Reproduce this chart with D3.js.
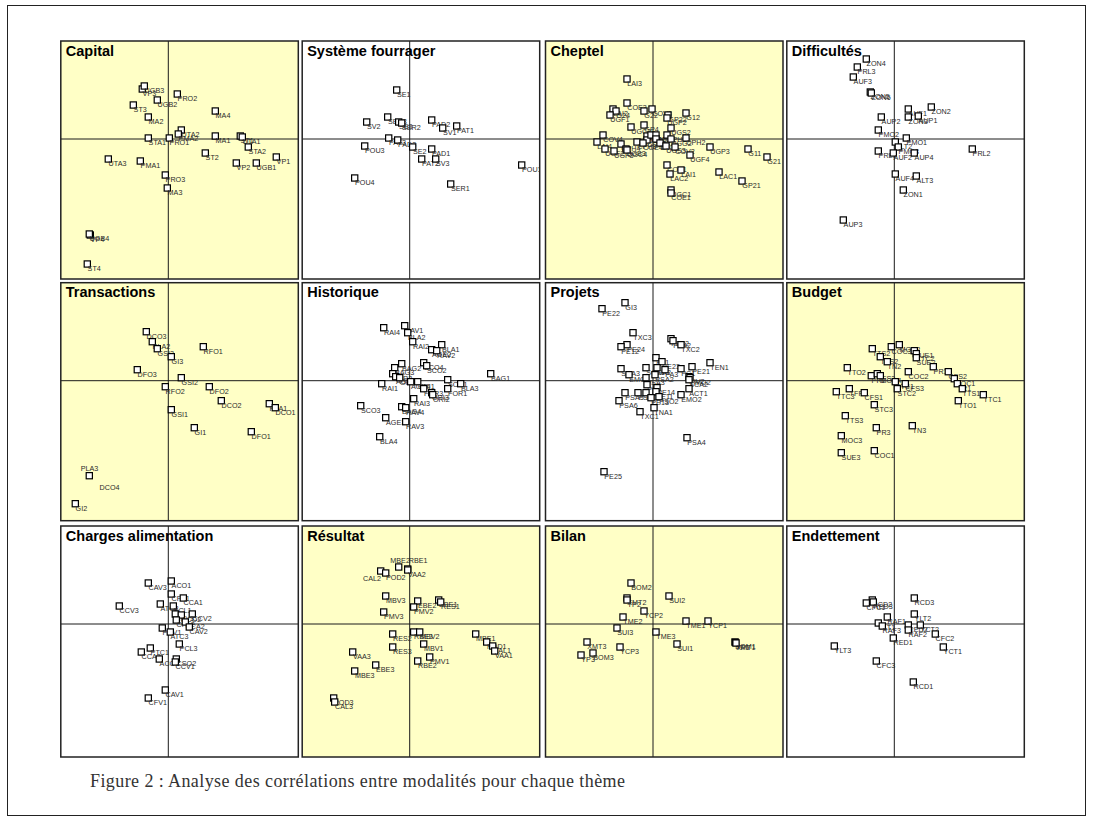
<!DOCTYPE html>
<html>
<head>
<meta charset="utf-8">
<script src="https://cdn.jsdelivr.net/npm/d3@7"></script>
<style>
  body { margin: 0; background: #fff; }
  svg { display: block; }
</style>
</head>
<body>
<svg id="fig" width="1093" height="823"></svg>
<script>
// Themes, in reading order (4 per row)
const themes = ["Capital", "Système fourrager", "Cheptel", "Difficultés",
                "Transactions", "Historique", "Projets", "Budget",
                "Charges alimentation", "Résultat", "Bilan", "Endettement"];
const shadedThemes = ["Capital", "Cheptel", "Transactions", "Budget", "Résultat", "Bilan"];

// Modalities: [code, axis 1, axis 2]
const capital = [["VP3",-0.26,0.50],["UGB3",-0.24,0.53],["PRO2",0.09,0.45],["UGB2",-0.11,0.39],["ST3",-0.35,0.34],
  ["MA2",-0.20,0.22],["MA4",0.47,0.28],["UTA2",0.13,0.09],["PMA2",0.10,0.05],["STA1",-0.20,0.01],["PRO1",0.01,0.01],
  ["MA1",0.47,0.03],["ST1",0.72,0.03],["UTA1",0.74,0.02],["STA2",0.80,-0.08],["ST2",0.37,-0.14],["VP1",1.08,-0.18],
  ["VP2",0.68,-0.24],["UGB1",0.88,-0.24],["UTA3",-0.60,-0.20],["PMA1",-0.28,-0.22],["PRO3",-0.03,-0.36],["MA3",-0.01,-0.49],
  ["VP4",-0.78,-0.96],["UGB4",-0.79,-0.95],["ST4",-0.81,-1.25]];

const systemeFourrager = [["SE1",-0.13,0.49],["SER3",-0.22,0.22],["SE3",-0.11,0.17],["SER2",-0.08,0.16],["SV2",-0.43,0.17],
  ["PAD2",0.22,0.19],["SV1",0.33,0.11],["PAT1",0.47,0.13],["PAT3",-0.21,0.01],["PAD3",-0.12,-0.01],["SE2",0.03,-0.08],
  ["PAD1",0.22,-0.10],["POU3",-0.45,-0.07],["PAT2",0.12,-0.20],["SV3",0.26,-0.20],["POU1",1.12,-0.26],["POU4",-0.55,-0.39],
  ["SER1",0.41,-0.45]];

const cheptel = [["LAI3",-0.26,0.60],["COE3",-0.26,0.36],["LAI2",-0.40,0.30],["G24",-0.37,0.28],["UGF1",-0.43,0.24],
  ["G22",-0.09,0.28],["COV3",-0.01,0.30],["GP22",0.15,0.24],["UGP2",0.14,0.21],["G12",0.33,0.26],["UGC3",-0.22,0.12],
  ["GP4",-0.09,0.14],["UGS2",0.18,0.11],["COV4",-0.50,0.04],["LAI4",-0.56,-0.03],["UGC2",-0.06,0.03],["COE2",-0.06,-0.01],
  ["GP1",-0.02,0.04],["UGS1",0.03,0.04],["G13",0.03,0.00],["CPH1",0.14,0.04],["UGG2",0.18,0.00],["CPH2",0.33,0.01],
  ["CPH3",-0.16,-0.03],["COE4",-0.10,-0.04],["LAC4",0.07,-0.04],["CPH4",-0.32,-0.05],["UGB3",-0.27,-0.10],["UGC4",-0.26,-0.11],
  ["UGF2",-0.48,-0.10],["UGF3",-0.39,-0.12],["UGS3",0.13,-0.07],["COV2",0.22,-0.08],["UGP3",0.57,-0.08],["G11",0.95,-0.10],
  ["G21",1.14,-0.18],["UGF4",0.37,-0.16],["COV1",0.14,-0.26],["LAI1",0.28,-0.31],["LAC2",0.17,-0.35],["LAC1",0.66,-0.33],
  ["GP21",0.89,-0.42],["UGC1",0.18,-0.51],["COE1",0.18,-0.54]];

const difficultes = [["ZON4",-0.28,0.80],["PRL3",-0.37,0.72],["AUF3",-0.41,0.62],["ZON5",-0.24,0.47],["ZON6",-0.23,0.46],
  ["AUF1",0.14,0.30],["ZON2",0.37,0.32],["ZON3",0.14,0.22],["AUP1",0.24,0.23],["AUP2",-0.13,0.22],["PMO2",-0.16,0.09],
  ["PMO1",0.12,0.01],["ALT2",0.01,-0.03],["PMO3",0.04,-0.08],["PRL1",-0.16,-0.12],["AUF2",-0.01,-0.14],["AUP4",0.20,-0.14],
  ["PRL2",0.78,-0.10],["AUF4",0.01,-0.35],["ALT3",0.22,-0.37],["ZON1",0.09,-0.51],["AUP3",-0.51,-0.81]];

const transactions = [["DCO3",-0.22,0.49],["PLA2",-0.16,0.39],["GSI3",-0.11,0.32],["GI3",0.03,0.24],["RFO1",0.35,0.34],
  ["DFO3",-0.31,0.11],["GSI2",0.13,0.03],["RFO2",-0.03,-0.06],["DFO2",0.41,-0.06],["DCO2",0.53,-0.20],["PLA1",1.01,-0.23],
  ["DCO1",1.07,-0.27],["GSI1",0.03,-0.29],["GI1",0.26,-0.47],["DFO1",0.83,-0.51],["PLA3",-0.79,-0.95],["DCO4",-0.69,-1.02],
  ["GI2",-0.93,-1.23]];

const historique = [["RAI4",-0.26,0.53],["RAV1",-0.05,0.55],["BLA2",-0.02,0.48],["RAI2",0.03,0.39],["BLA1",0.32,0.36],
  ["AGE2",0.22,0.31],["RAV2",0.27,0.30],["SCO4",0.14,0.18],["SCO2",0.17,0.15],["BAG2",-0.08,0.17],["BAG3",-0.15,0.13],
  ["FOR2",-0.17,0.07],["AGE1",-0.14,0.04],["ORI4",-0.10,0.03],["RAI1",-0.28,-0.03],["AGE4",0.01,-0.01],["ORI1",0.08,-0.01],
  ["SCO1",0.38,0.01],["BLA3",0.51,-0.03],["BAG1",0.81,0.07],["FOR3",0.14,-0.08],["ORI3",0.22,-0.12],["ORI2",0.23,-0.14],
  ["FOR1",0.38,-0.08],["RAI3",0.04,-0.18],["SCO3",-0.49,-0.25],["BAG4",-0.08,-0.26],["RAV4",-0.04,-0.27],["AGE3",-0.24,-0.37],
  ["RAV3",-0.04,-0.41],["BLA4",-0.30,-0.56]];

const projets = [["GI3",-0.28,0.78],["PE22",-0.51,0.72],["TXC3",-0.20,0.48],["PE24",-0.26,0.36],["PE12",-0.32,0.34],
  ["PE32",0.18,0.42],["PE42",0.20,0.40],["TXC2",0.28,0.36],["TEN1",0.57,0.18],["PE21",0.39,0.14],["PA1",0.03,0.23],
  ["PE23",0.09,0.19],["SCA1",-0.07,0.13],["SA2",0.04,0.13],["PA3",0.12,0.11],["PC1",0.28,0.12],["PSA2",0.02,0.06],
  ["SCA3",-0.32,0.12],["EMO1",-0.24,0.06],["PSA3",-0.07,0.03],["PT2",-0.06,-0.04],["PE14",0.04,-0.07],["TIV2",0.36,0.04],
  ["PMO2",0.37,0.03],["SCA2",0.36,0.01],["ACT1",0.36,-0.08],["EMO2",0.28,-0.14],["PE11",0.03,-0.11],["PSA5",-0.28,-0.12],
  ["PSA6",-0.34,-0.20],["PSA1",-0.15,-0.12],["PT1",-0.07,-0.12],["PE13",-0.02,-0.17],["PSO2",0.06,-0.16],["TNA1",0.01,-0.27],
  ["TXC1",-0.13,-0.31],["PSA4",0.34,-0.57],["PE25",-0.49,-0.91]];

const budget = [["TTS2",-0.22,0.32],["COC3",-0.03,0.34],["MOC2",0.05,0.36],["SUE1",0.20,0.30],["TTC2",0.22,0.27],
  ["SUE2",0.22,0.23],["TFS2",-0.14,0.24],["TN2",-0.07,0.19],["PR1",0.39,0.14],["TTO2",-0.47,0.13],["COC2",0.14,0.09],
  ["CFS2",0.54,0.09],["PR2",-0.23,0.05],["TFS3",-0.17,0.07],["MOC4",-0.14,0.05],["STC1",0.01,-0.01],["MOC1",0.60,0.02],
  ["TR1",0.63,-0.03],["TTS1",0.68,-0.08],["TTC1",0.89,-0.14],["TTO1",0.64,-0.20],["CFS3",0.11,-0.03],["STC2",0.03,-0.08],
  ["TTC3",-0.58,-0.11],["TFF1",-0.45,-0.08],["CFS1",-0.30,-0.12],["STC3",-0.20,-0.24],["TTS3",-0.49,-0.35],["PR3",-0.18,-0.47],
  ["TN3",0.18,-0.45],["MOC3",-0.53,-0.55],["SUE3",-0.53,-0.72],["COC1",-0.20,-0.70]];

const chargesAlimentation = [["CAV3",-0.20,0.41],["ACO1",0.03,0.43],["CPA1",0.03,0.30],["CCA1",0.15,0.26],["CCV3",-0.49,0.18],
  ["ATC2",-0.08,0.20],["PCL1",0.05,0.18],["CCV2",0.24,0.10],["CFV3",0.07,0.10],["ACO2",0.13,0.09],["CPA2",0.08,0.04],
  ["CCA2",0.17,0.02],["CAV2",0.21,-0.03],["PCV1",-0.06,-0.04],["ATC3",0.02,-0.08],["PCL3",0.11,-0.20],["PTC1",-0.18,-0.24],
  ["CCA3",-0.27,-0.28],["ACO3",-0.09,-0.35],["CSO2",0.08,-0.35],["CCV1",0.07,-0.38],["CAV1",-0.03,-0.66],["CFV1",-0.20,-0.74]];

const resultat = [["MBE2",-0.11,0.57],["RBE1",-0.02,0.55],["VAA2",-0.02,0.54],["CAL2",-0.29,0.53],["POD2",-0.24,0.51],
  ["MBV3",-0.24,0.28],["PMV3",-0.26,0.12],["EBE2",0.08,0.23],["EBE1",0.29,0.24],["PMV2",0.04,0.17],["RES1",0.31,0.22],
  ["RES2",-0.17,-0.10],["RBE3",0.04,-0.08],["MBV2",0.10,-0.08],["MBV1",0.14,-0.20],["RES3",-0.17,-0.23],["PMV1",0.20,-0.33],
  ["RBE2",0.08,-0.37],["MBE1",0.66,-0.10],["POD1",0.77,-0.18],["CAL1",0.83,-0.22],["VAA1",0.85,-0.27],["VAA3",-0.57,-0.28],
  ["EBE3",-0.34,-0.41],["MBE3",-0.55,-0.47],["POD3",-0.76,-0.74],["CAL3",-0.75,-0.78]];

const bilan = [["BOM2",-0.22,0.41],["SUI2",0.16,0.28],["XMT2",-0.26,0.26],["YP2",-0.26,0.24],["YCP2",-0.09,0.13],
  ["TME2",-0.30,0.07],["SUI3",-0.36,-0.04],["TME1",0.33,0.03],["YCP1",0.55,0.03],["TME3",0.03,-0.08],["SUI1",0.24,-0.20],
  ["BOM1",0.82,-0.18],["YP1",0.825,-0.185],["XMT1",0.83,-0.19],["XMT3",-0.66,-0.18],["YCP3",-0.33,-0.23],["YP3",-0.72,-0.31],
  ["BOM3",-0.60,-0.29]];

const endettement = [["RCD2",-0.22,0.24],["RED3",-0.21,0.22],["CFC1",-0.28,0.21],["RCD3",0.20,0.26],["YLT2",0.20,0.10],
  ["RAF1",-0.07,0.07],["YLT1",-0.16,0.01],["RAF3",-0.12,-0.02],["RED2",0.14,-0.01],["RAF2",0.14,-0.06],["YCT2",0.26,-0.01],
  ["RED1",-0.01,-0.14],["CFC2",0.41,-0.10],["YCT1",0.49,-0.23],["YLT3",-0.60,-0.22],["CFC3",-0.18,-0.37],["RCD1",0.19,-0.58]];

const themePoints = [capital, systemeFourrager, cheptel, difficultes,
                     transactions, historique, projets, budget,
                     chargesAlimentation, resultat, bilan, endettement];

const caption = "Figure 2 : Analyse des corrélations entre modalités pour chaque thème";

// ---- layout & styling ----
const colLeft = [60.8, 302.2, 545.5, 786.8];
const rowTop = [41, 282.7, 526];
const rowHeight = [238, 238, 231];
const panelWidth = 237.5;
const pxPerUnit = 100;          // same plotting scale in every panel
const originX = 107.5, originY = 98;

// default label position relative to the marker centre, plus a few hand-placed ones
const labelDefault = [0.3, 7.2];
const labelPlacement = {
  "Transactions": { PLA3: [-8.6, -4.6] },
  "Résultat": { MBE2: [-8.4, -4.4], RBE1: [1, -6], CAL2: [-17.7, 10] }
};
const labelOnly = { "Transactions": ["DCO4"] };

const svg = d3.select("#fig");

svg.append("rect")
  .attr("x", 7.5).attr("y", 5.5).attr("width", 1078).attr("height", 810)
  .attr("fill", "none").attr("stroke", "#222").attr("stroke-width", 1);

const defs = svg.append("defs");

themes.forEach((theme, i) => {
  const c = i % 4, r = Math.floor(i / 4);
  const w = panelWidth, h = rowHeight[r];
  const x0 = -originX / pxPerUnit, y0 = originY / pxPerUnit;
  const x = d3.scaleLinear().domain([x0, x0 + w / pxPerUnit]).range([0, w]);
  const y = d3.scaleLinear().domain([y0, y0 - h / pxPerUnit]).range([0, h]);

  const g = svg.append("g").attr("transform", `translate(${colLeft[c]},${rowTop[r]})`);
  defs.append("clipPath").attr("id", "clip" + i)
    .append("rect").attr("width", w).attr("height", h);

  const inner = g.append("g").attr("clip-path", `url(#clip${i})`);
  inner.append("rect").attr("width", w).attr("height", h)
    .attr("fill", shadedThemes.includes(theme) ? "#ffffc6" : "#ffffff");

  // factor axes through the origin
  inner.append("line").attr("x1", 0).attr("x2", w).attr("y1", y(0)).attr("y2", y(0))
    .attr("stroke", "#1a1a1a").attr("stroke-width", 1);
  inner.append("line").attr("x1", x(0)).attr("x2", x(0)).attr("y1", 0).attr("y2", h)
    .attr("stroke", "#1a1a1a").attr("stroke-width", 1);

  const place = labelPlacement[theme] || {};
  const bare = labelOnly[theme] || [];
  const pts = inner.selectAll("g.pt").data(themePoints[i]).join("g")
    .attr("class", "pt")
    .attr("transform", d => `translate(${x(d[1])},${y(d[2])})`);

  pts.filter(d => !bare.includes(d[0])).append("rect")
    .attr("x", -3.1).attr("y", -3.1).attr("width", 6.2).attr("height", 6.2)
    .attr("fill", "#fff").attr("stroke", "#000").attr("stroke-width", 1.2);

  pts.append("text")
    .attr("x", d => (place[d[0]] || labelDefault)[0])
    .attr("y", d => (place[d[0]] || labelDefault)[1])
    .attr("font-family", "'Liberation Sans', Arial, sans-serif")
    .attr("font-size", 7.2)
    .attr("fill", "#2a2a2a")
    .text(d => d[0]);

  inner.append("text")
    .attr("x", 5).attr("y", 14.5)
    .attr("font-family", "'Liberation Sans', Arial, sans-serif")
    .attr("font-size", 14.5).attr("font-weight", "bold")
    .attr("fill", "#000")
    .text(theme);

  g.append("rect").attr("width", w).attr("height", h)
    .attr("fill", "none").attr("stroke", "#222").attr("stroke-width", 1.5);
});

svg.append("text")
  .attr("x", 90).attr("y", 787)
  .attr("font-family", "'Liberation Serif', 'Times New Roman', serif")
  .attr("font-size", 18)
  .attr("textLength", 535).attr("lengthAdjust", "spacing")
  .attr("fill", "#333")
  .text(caption);
</script>
</body>
</html>
